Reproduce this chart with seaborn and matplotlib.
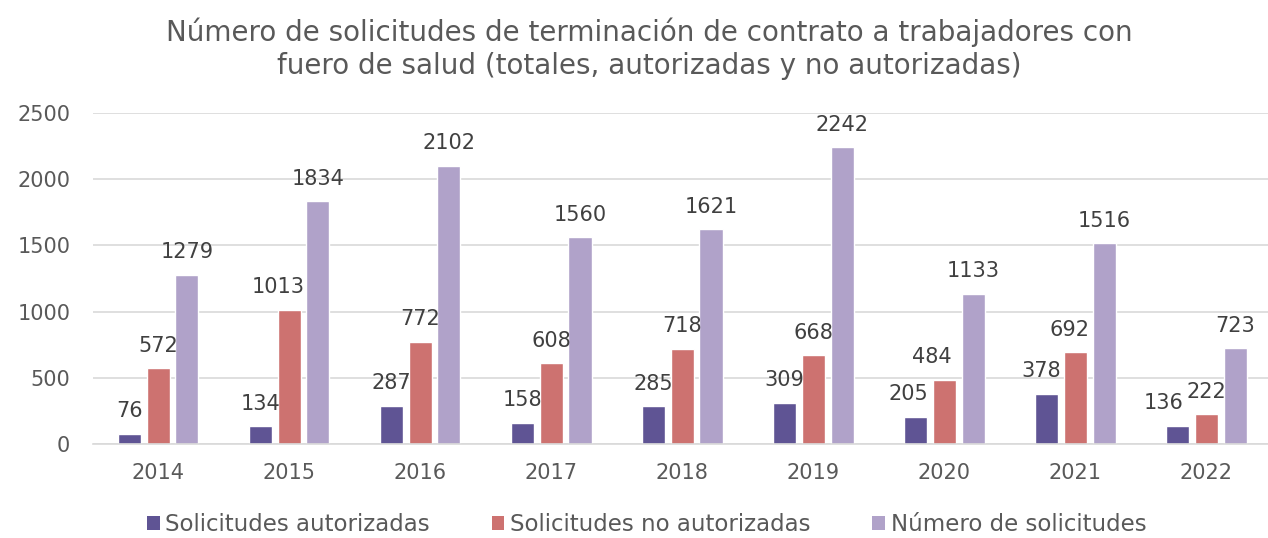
import matplotlib
matplotlib.use("Agg")
import matplotlib.pyplot as plt
import seaborn as sns
import pandas as pd
from matplotlib.patches import Patch

years = ["2014", "2015", "2016", "2017", "2018", "2019", "2020", "2021", "2022"]
autorizadas = [76, 134, 287, 158, 285, 309, 205, 378, 136]
no_autorizadas = [572, 1013, 772, 608, 718, 668, 484, 692, 222]
total = [1279, 1834, 2102, 1560, 1621, 2242, 1133, 1516, 723]

series = ["Solicitudes autorizadas", "Solicitudes no autorizadas", "Número de solicitudes"]
colors = ["#5f5494", "#cd7270", "#b0a2c9"]

df = pd.DataFrame({
    "Año": years * 3,
    "Serie": [series[0]] * 9 + [series[1]] * 9 + [series[2]] * 9,
    "Valor": autorizadas + no_autorizadas + total,
})

sns.set_theme(style="white")
plt.rcParams["font.family"] = ["DejaVu Sans"]
text_color = "#595959"
label_color = "#404040"

fig = plt.figure(figsize=(12.68, 5.38), dpi=100)
ax = fig.add_axes([0.073, 0.175, 0.93, 0.615])

sns.barplot(data=df, x="Año", y="Valor", hue="Serie", hue_order=series,
            palette=colors, width=0.66, gap=0.2, saturation=1,
            legend=False, ax=ax, errorbar=None)

# nudge a few labels sideways so neighbouring values do not collide
nudges = {(0, 6): -5, (0, 7): -4, (0, 8): -10, (1, 1): -8, (1, 6): -9, (1, 7): -4}

for si, container in enumerate(ax.containers):
    for ci, bar in enumerate(container):
        h = bar.get_height()
        ax.annotate(f"{int(round(h))}",
                    xy=(bar.get_x() + bar.get_width() / 2, h),
                    xytext=(nudges.get((si, ci), 0), 9), textcoords="offset points",
                    ha="center", va="bottom", fontsize=15, color=label_color)

ax.set_ylim(0, 2500)
ax.set_yticks(range(0, 2501, 500))
ax.set_xlim(-0.5, 8.5)
ax.yaxis.grid(True, color="#d9d9d9", linewidth=1.2)
ax.set_axisbelow(True)
for s in ["top", "right", "left"]:
    ax.spines[s].set_visible(False)
ax.spines["bottom"].set_color("#d9d9d9")
ax.spines["bottom"].set_linewidth(1.2)
ax.set_xlabel("")
ax.set_ylabel("")
ax.tick_params(axis="both", labelsize=15, colors=text_color, length=0)
ax.tick_params(axis="x", pad=14)
ax.tick_params(axis="y", pad=16)

fig.suptitle("Número de solicitudes de terminación de contrato a trabajadores con\n"
             "fuero de salud (totales, autorizadas y no autorizadas)",
             x=0.512, y=0.968, fontsize=20, color=text_color, linespacing=1.25)

handles = [Patch(facecolor=c, edgecolor="none") for c in colors]
fig.legend(handles, series, loc="lower center", bbox_to_anchor=(0.51, -0.035),
           ncol=3, frameon=False, fontsize=16.5, labelcolor=text_color,
           handlelength=0.55, handleheight=0.55, handletextpad=0.25, columnspacing=2.7)

fig.savefig("out.png", dpi=100)
